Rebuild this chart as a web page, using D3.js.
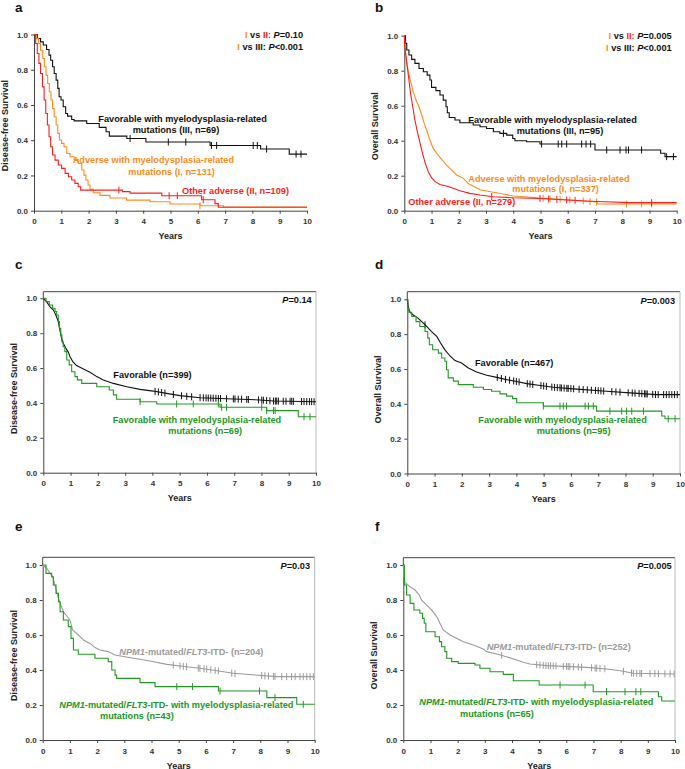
<!DOCTYPE html>
<html>
<head>
<meta charset="utf-8">
<script src="https://cdn.jsdelivr.net/npm/d3@7"></script>
<style>
  body { margin: 0; background: #fff; }
  text { font-family: "Liberation Sans", Arial, sans-serif; font-weight: bold; }
</style>
</head>
<body>
<script>
// axis ticks
const yearTicks = [0, 1, 2, 3, 4, 5, 6, 7, 8, 9, 10];
const survTicks = [0, 0.2, 0.4, 0.6, 0.8, 1.0];

// a: disease-free survival, adverse / other adverse / favorable with MR mutations
const aAdvMrT = [0,0.07,0.16,0.24,0.32,0.38,0.44,0.5,0.56,0.62,0.68,0.74,0.81,0.87,0.93,1.01,1.1,1.2,1.32,1.47,1.62,1.75,1.83,1.9,1.98,2.05,2.17,2.42,2.78,3.39,4.25,4.98,6.08,6.94];
const aAdvMrS = [1,0.977,0.949,0.911,0.864,0.817,0.769,0.722,0.675,0.628,0.58,0.533,0.486,0.439,0.401,0.382,0.363,0.325,0.306,0.291,0.268,0.231,0.202,0.174,0.146,0.121,0.102,0.087,0.072,0.06,0.051,0.038,0.028,0.021];
const aAdvMrC = [6.08];
const aOthT = [0,0.06,0.12,0.18,0.24,0.31,0.37,0.43,0.49,0.55,0.61,0.68,0.77,0.89,1.01,1.14,1.26,1.38,1.5,1.62,1.71,3.24,3.52,4.68,6.14,6.63,6.75];
const aOthS = [1,0.949,0.892,0.836,0.779,0.703,0.628,0.552,0.486,0.42,0.363,0.316,0.287,0.259,0.24,0.212,0.193,0.174,0.155,0.136,0.117,0.108,0.1,0.085,0.062,0.04,0.02];
const aOthC = [3.11,4.95,5.25,6.2];
const aFavMrT = [0,0.12,0.24,0.34,0.46,0.55,0.61,0.68,0.74,0.81,0.87,0.92,0.99,1.07,1.16,1.23,1.38,1.47,1.93,2.39,2.64,2.76,3.4,4.1,6.45,8.3,9.35];
const aFavMrS = [1,0.977,0.958,0.94,0.915,0.883,0.854,0.817,0.779,0.741,0.694,0.647,0.628,0.59,0.552,0.537,0.518,0.51,0.495,0.473,0.448,0.423,0.41,0.39,0.37,0.35,0.321];
const aFavMrC = [3.52,4.92,5.56,6.5,6.69,8.03,8.18,8.52,9.6,9.78];

// b: overall survival, same groups
const bAdvMrT = [0,0.04,0.09,0.15,0.23,0.33,0.43,0.54,0.64,0.73,0.84,0.94,1.06,1.21,1.37,1.55,1.74,1.92,2.17,2.35,2.78,3.27,3.64,4.0,4.49,4.98,5.96,7.06,7.12];
const bAdvMrS = [1,0.918,0.842,0.794,0.737,0.68,0.632,0.594,0.547,0.499,0.451,0.404,0.356,0.324,0.293,0.261,0.232,0.204,0.185,0.155,0.12,0.105,0.095,0.084,0.078,0.072,0.063,0.05,0.038];
const bAdvMrC = [5.1,5.35,5.72,6.08,6.57,6.82,7.06,8.16,8.71,9.08];
const bOthT = [0,0.02,0.06,0.11,0.17,0.23,0.31,0.39,0.48,0.58,0.67,0.77,0.88,1.0,1.13,1.31,1.55,1.8,2.04,2.41,2.78,3.27,4.0,4.98,5.96,7.06,8.29];
const bOthS = [1,0.937,0.88,0.823,0.747,0.67,0.594,0.518,0.451,0.385,0.328,0.27,0.223,0.189,0.166,0.15,0.141,0.128,0.114,0.099,0.09,0.08,0.074,0.07,0.061,0.053,0.046];
const bOthC = [3.21,4.98,5.3,5.6,5.96,6.27,9.08];
const bFavMrT = [0,0.04,0.09,0.17,0.27,0.39,0.54,0.7,0.84,0.94,1.0,1.16,1.31,1.43,1.53,1.58,1.65,1.86,2.04,2.53,2.78,3.02,3.27,3.51,3.76,3.98,4.06,4.49,4.98,7.0,9.41,9.57];
const bFavMrS = [1,0.956,0.918,0.89,0.865,0.842,0.813,0.794,0.775,0.747,0.705,0.686,0.661,0.632,0.594,0.56,0.533,0.518,0.503,0.49,0.48,0.47,0.451,0.442,0.432,0.413,0.4,0.394,0.381,0.347,0.328,0.309];
const bFavMrC = [3.64,5.04,5.65,5.78,5.96,6.51,6.67,6.84,7.43,7.92,8.14,8.23,8.71,9.63,9.88];

// c: disease-free survival, favorable vs favorable with MR mutations
const cFavT = [0,0.12,0.24,0.37,0.46,0.55,0.61,0.67,0.73,0.83,0.92,0.98,1.08,1.22,1.47,1.71,1.96,2.2,2.57,3.06,3.55,4.03,4.52,5.01,5.75,6.97,7.95,8.44,10];
const cFavS = [1,0.981,0.952,0.933,0.904,0.866,0.818,0.771,0.742,0.713,0.69,0.665,0.637,0.614,0.595,0.576,0.551,0.532,0.512,0.493,0.478,0.468,0.455,0.442,0.43,0.423,0.417,0.411,0.407];
const cFavC = [4.1,4.22,4.34,4.46,4.77,5.07,5.26,5.44,5.75,5.87,5.97,6.05,6.14,6.23,6.33,6.42,6.5,6.72,6.97,7.03,7.15,7.27,7.46,7.52,7.89,8.01,8.07,8.19,8.31,8.44,8.51,8.56,8.62,8.8,8.9,9.05,9.11,9.17,9.47,9.56,9.66,9.76,9.84,9.93];
const cFavMrT = [0,0.1,0.22,0.34,0.43,0.49,0.55,0.59,0.64,0.68,0.73,0.79,0.86,0.95,1.04,1.16,1.25,1.41,1.96,2.42,2.57,2.69,3.55,4.16,6.48,8.19,9.35];
const cFavMrS = [1,0.981,0.962,0.943,0.924,0.904,0.866,0.828,0.79,0.751,0.723,0.694,0.646,0.618,0.579,0.551,0.532,0.512,0.493,0.474,0.446,0.421,0.407,0.394,0.375,0.356,0.321];
const cFavMrC = [3.55,4.89,5.5,6.42,6.54,6.72,8.01,8.19,8.44,8.5,9.56,9.78];

// d: overall survival, favorable vs favorable with MR mutations
const dFavT = [0,0.04,0.1,0.22,0.37,0.53,0.71,0.89,1.08,1.22,1.38,1.56,1.75,1.99,2.24,2.54,2.91,3.28,3.64,4.01,4.38,4.87,5.35,6.09,7.31,8.17,9.14,10];
const dFavS = [1,0.949,0.926,0.91,0.895,0.872,0.844,0.815,0.787,0.749,0.71,0.676,0.648,0.634,0.606,0.583,0.564,0.552,0.539,0.528,0.516,0.505,0.495,0.486,0.472,0.463,0.453,0.453];
const dFavC = [0.65,3.3,3.45,3.6,3.75,3.9,4.0,4.1,4.4,4.5,4.6,4.9,5.0,5.1,5.3,5.4,5.5,5.6,5.65,5.75,5.85,5.9,6.0,6.1,6.3,6.45,6.6,6.75,6.9,7.0,7.1,7.2,7.5,7.65,7.8,8.1,8.25,8.35,8.5,8.6,8.7,8.75,8.8,9.0,9.1,9.2,9.4,9.5,9.6,9.7,9.8,9.9];
const dFavMrT = [0,0.02,0.06,0.16,0.32,0.46,0.65,0.75,0.81,0.93,1.14,1.26,1.38,1.44,1.5,1.69,1.87,2.42,2.79,3.09,3.4,3.64,3.86,4.01,4.99,6.94,9.33,9.45];
const dFavMrS = [1,0.949,0.926,0.901,0.872,0.844,0.815,0.777,0.739,0.71,0.691,0.663,0.644,0.596,0.549,0.53,0.51,0.495,0.482,0.472,0.457,0.444,0.43,0.406,0.387,0.358,0.33,0.314];
const dFavMrC = [4.99,5.6,5.72,5.84,6.52,6.64,6.82,7.43,7.86,8.04,8.23,8.66,9.57,9.82];

// e: disease-free survival, NPM1-mutated/FLT3-ITD- with and without MR mutations
const eNpmT = [0,0.15,0.27,0.37,0.45,0.54,0.64,0.76,0.88,1.0,1.1,1.31,1.5,1.74,1.92,2.11,2.41,2.66,3.33,3.95,4.56,5.29,5.78,6.4,7.01,7.81,8.6,10];
const eNpmS = [1,0.981,0.952,0.933,0.886,0.829,0.781,0.733,0.71,0.686,0.629,0.6,0.571,0.552,0.528,0.514,0.505,0.486,0.467,0.451,0.432,0.419,0.41,0.396,0.381,0.371,0.362,0.362];
const eNpmC = [4.8,5.05,5.17,5.29,5.72,5.78,5.93,6.03,6.18,6.34,6.46,6.95,7.07,8.05,8.17,8.3,8.48,8.54,8.79,8.97,9.15,9.28,9.46,9.58,9.71,9.83,9.95];
const eNpmMrT = [0,0.12,0.33,0.39,0.49,0.58,0.64,0.76,0.94,1.04,1.13,1.31,1.92,2.41,2.54,2.66,2.72,3.58,4.13,6.46,8.24,9.34];
const eNpmMrS = [1,0.952,0.933,0.886,0.838,0.79,0.733,0.686,0.648,0.581,0.514,0.49,0.467,0.448,0.4,0.371,0.352,0.328,0.305,0.28,0.242,0.204];
const eNpmMrC = [4.93,5.51,6.52,7.97,8.54,9.58];

// f: overall survival, NPM1-mutated/FLT3-ITD- with and without MR mutations
const fNpmT = [0,0.02,0.06,0.25,0.43,0.59,0.67,0.86,1.04,1.23,1.35,1.47,1.72,1.96,2.21,2.58,2.94,3.07,3.44,3.8,4.17,4.42,4.66,5.28,6.75,7.48,7.98,8.47,10];
const fNpmS = [1,0.943,0.901,0.876,0.857,0.829,0.8,0.771,0.743,0.705,0.667,0.629,0.6,0.581,0.562,0.543,0.52,0.505,0.491,0.476,0.457,0.444,0.434,0.425,0.415,0.406,0.396,0.381,0.377];
const fNpmC = [3.62,4.91,5.03,5.15,5.25,5.34,5.42,5.52,5.62,5.89,6.01,6.07,6.13,6.26,6.44,6.56,6.93,7.06,7.12,7.24,7.42,8.1,8.4,8.47,8.59,8.71,8.77,9.08,9.26,9.39,9.63,9.82,9.97];
const fNpmMrT = [0,0.04,0.12,0.25,0.39,0.61,0.71,0.77,0.83,1.17,1.33,1.41,1.53,1.6,1.78,2.02,2.64,2.82,3.19,3.68,4.05,5.0,6.99,9.39,9.51];
const fNpmMrS = [1,0.886,0.829,0.781,0.743,0.724,0.695,0.667,0.619,0.59,0.562,0.533,0.505,0.467,0.448,0.438,0.429,0.41,0.39,0.375,0.339,0.314,0.276,0.247,0.223];
const fNpmMrC = [5.77,6.69,7.48,8.16,8.56,8.74];

const K = "#111", O = "#ff8c1a", R = "#ff1c1c", G = "#229922", GR = "#9b9b9b";

const svg = d3.select("body").append("svg").attr("width", 685).attr("height", 769);

// survival value at time t, following the drawn curve
const survAt = (s, t) => {
  let i = Math.max(0, d3.bisectRight(s.time, t) - 1);
  if (s.step || i >= s.time.length - 1) return s.surv[i];
  const f = (t - s.time[i]) / (s.time[i + 1] - s.time[i]);
  return s.surv[i] + f * (s.surv[i + 1] - s.surv[i]);
};

const mr = "myelodysplasia-related";
const npm = [["NPM1", true], ["-mutated/", false], ["FLT3", true], ["-ITD-", false]];

const panels = [
  {
    letter: "a", lx: 15, ly: 11.7, x0: 34, x1: 307, yTop: 34.5, y0: 210.7, frameTop: null,
    yLabel: "Disease-free Survival",
    series: [
      { time: aFavMrT, surv: aFavMrS, cens: aFavMrC, color: K, step: true },
      { time: aAdvMrT, surv: aAdvMrS, cens: aAdvMrC, color: O, step: true },
      { time: aOthT, surv: aOthS, cens: aOthC, color: R, step: true }
    ],
    notes: [
      { x: 303, y: 38, anchor: "end", parts: [["I", O], [" vs ", K], ["II:", R], [" ", K], ["P", K, true], ["=0.10", K]] },
      { x: 303, y: 50, anchor: "end", parts: [["I", O], [" vs III: ", K], ["P", K, true], ["<0.001", K]] },
      { x: 98.3, y: 121.5, parts: [["Favorable with " + mr, K]] },
      { x: 132.7, y: 133.2, parts: [["mutations (III, n=69)", K]] },
      { x: 72.7, y: 163.2, parts: [["Adverse with " + mr, O]] },
      { x: 128.3, y: 174.9, parts: [["mutations (I, n=131)", O]] },
      { x: 182, y: 193.9, parts: [["Other adverse (II, n=109)", R]] }
    ]
  },
  {
    letter: "b", lx: 375, ly: 11.7, x0: 404.3, x1: 676.7, yTop: 35.7, y0: 210.7, frameTop: null,
    yLabel: "Overall Survival",
    series: [
      { time: bFavMrT, surv: bFavMrS, cens: bFavMrC, color: K, step: true },
      { time: bAdvMrT, surv: bAdvMrS, cens: bAdvMrC, color: O, step: false },
      { time: bOthT, surv: bOthS, cens: bOthC, color: R, step: false }
    ],
    notes: [
      { x: 671.7, y: 39, anchor: "end", parts: [["I", O], [" vs ", K], ["II:", R], [" ", K], ["P", K, true], ["=0.005", K]] },
      { x: 671.7, y: 51, anchor: "end", parts: [["I", O], [" vs III: ", K], ["P", K, true], ["<0.001", K]] },
      { x: 468.3, y: 122.5, parts: [["Favorable with " + mr, K]] },
      { x: 516.7, y: 134.2, parts: [["mutations (III, n=95)", K]] },
      { x: 468.3, y: 181.5, parts: [["Adverse with " + mr, O]] },
      { x: 512.3, y: 192.2, parts: [["mutations (I, n=337)", O]] },
      { x: 408.3, y: 204.9, parts: [["Other adverse (II, n=279)", R]] }
    ]
  },
  {
    letter: "c", lx: 15, ly: 269, x0: 43.3, x1: 316, yTop: 298.3, y0: 472.7, frameTop: 291.7,
    yLabel: "Disease-free Survival",
    series: [
      { time: cFavT, surv: cFavS, cens: cFavC, color: K, step: false },
      { time: cFavMrT, surv: cFavMrS, cens: cFavMrC, color: G, step: true }
    ],
    notes: [
      { x: 311.7, y: 303, anchor: "end", parts: [["P", K, true], ["=0.14", K]] },
      { x: 113.3, y: 377.5, parts: [["Favorable (n=399)", K]] },
      { x: 112.7, y: 423.2, parts: [["Favorable with " + mr, G]] },
      { x: 168.3, y: 434.2, parts: [["mutations (n=69)", G]] }
    ]
  },
  {
    letter: "d", lx: 375, ly: 268.5, x0: 407.3, x1: 680, yTop: 299.3, y0: 473.5, frameTop: 291.7,
    yLabel: "Overall Survival",
    series: [
      { time: dFavT, surv: dFavS, cens: dFavC, color: K, step: false },
      { time: dFavMrT, surv: dFavMrS, cens: dFavMrC, color: G, step: true }
    ],
    notes: [
      { x: 675, y: 303.7, anchor: "end", parts: [["P", K, true], ["=0.003", K]] },
      { x: 475, y: 365.9, parts: [["Favorable (n=467)", K]] },
      { x: 478.3, y: 422.5, parts: [["Favorable with " + mr, G]] },
      { x: 536.7, y: 433.5, parts: [["mutations (n=95)", G]] }
    ]
  },
  {
    letter: "e", lx: 15, ly: 531, x0: 42.7, x1: 314.7, yTop: 565, y0: 740, frameTop: 557.3,
    yLabel: "Disease-free Survival",
    series: [
      { time: eNpmT, surv: eNpmS, cens: eNpmC, color: GR, step: false },
      { time: eNpmMrT, surv: eNpmMrS, cens: eNpmMrC, color: G, step: true }
    ],
    notes: [
      { x: 310, y: 569, anchor: "end", parts: [["P", K, true], ["=0.03", K]] },
      { x: 119.3, y: 654.9, parts: npm.map((d) => [d[0], GR, d[1]]).concat([[" (n=204)", GR]]) },
      { x: 59.3, y: 707.5, parts: npm.map((d) => [d[0], G, d[1]]).concat([[" with " + mr, G]]) },
      { x: 100, y: 718.9, parts: [["mutations (n=43)", G]] }
    ]
  },
  {
    letter: "f", lx: 375, ly: 531, x0: 403.3, x1: 675, yTop: 565, y0: 740, frameTop: 557.7,
    yLabel: "Overall Survival",
    series: [
      { time: fNpmT, surv: fNpmS, cens: fNpmC, color: GR, step: false },
      { time: fNpmMrT, surv: fNpmMrS, cens: fNpmMrC, color: G, step: true }
    ],
    notes: [
      { x: 671.7, y: 569, anchor: "end", parts: [["P", K, true], ["=0.005", K]] },
      { x: 486.7, y: 649.9, parts: npm.map((d) => [d[0], GR, d[1]]).concat([[" (n=252)", GR]]) },
      { x: 419.3, y: 704.9, parts: npm.map((d) => [d[0], G, d[1]]).concat([[" with " + mr, G]]) },
      { x: 460, y: 716.5, parts: [["mutations (n=65)", G]] }
    ]
  }
];

const drawPanel = (p) => {
  const x = d3.scaleLinear().domain([0, 10]).range([p.x0, p.x1]);
  const y = d3.scaleLinear().domain([0, 1]).range([p.y0, p.yTop]);
  const g = svg.append("g");

  //frame around the plot for the lower panels
  if (p.frameTop !== null) {
    g.append("line").attr("x1", p.x0).attr("x2", p.x1).attr("y1", p.frameTop).attr("y2", p.frameTop)
      .attr("stroke", "#444").attr("stroke-width", 1);
    g.append("line").attr("x1", p.x1).attr("x2", p.x1).attr("y1", p.frameTop).attr("y2", p.y0)
      .attr("stroke", "#bbb").attr("stroke-width", 1);
    g.append("line").attr("x1", p.x0).attr("x2", p.x0).attr("y1", p.frameTop).attr("y2", p.yTop)
      .attr("stroke", "#444").attr("stroke-width", 1);
  }

  const xAxis = g.append("g")
    .attr("transform", `translate(0,${p.y0})`)
    .call(d3.axisBottom(x).tickValues(yearTicks).tickSize(3).tickSizeOuter(0).tickPadding(5).tickFormat(d3.format("d")));
  const yAxis = g.append("g")
    .attr("transform", `translate(${p.x0},0)`)
    .call(d3.axisLeft(y).tickValues(survTicks).tickSize(3).tickSizeOuter(0).tickPadding(3).tickFormat(d3.format(".1f")));
  [xAxis, yAxis].forEach((a) => {
    a.selectAll("path, line").attr("stroke", "#444");
    a.selectAll("text").attr("fill", "#333").style("font-size", "8px").style("font-family", null);
  });

  g.append("text")
    .attr("x", (p.x0 + p.x1) / 2).attr("y", p.y0 + 28.5)
    .attr("text-anchor", "middle").style("font-size", "9px").attr("fill", "#222")
    .text("Years");
  g.append("text")
    .attr("transform", `translate(${p.x0 - 29},${(p.y0 + p.yTop) / 2 + 3}) rotate(-90)`)
    .attr("text-anchor", "middle").attr("dy", "0.35em").style("font-size", "9px").attr("fill", "#222")
    .text(p.yLabel);
  g.append("text")
    .attr("x", p.lx).attr("y", p.ly).style("font-size", "13.5px").attr("fill", "#111")
    .text(p.letter);

  //survival curves with censor marks
  p.series.forEach((s) => {
    const pts = s.time.map((t, i) => [t, s.surv[i]]);
    if (s.time[s.time.length - 1] < 10) pts.push([10, s.surv[s.surv.length - 1]]);
    const line = d3.line()
      .x((d) => x(d[0]))
      .y((d) => y(d[1]))
      .curve(s.step ? d3.curveStepAfter : d3.curveLinear);
    g.append("path")
      .attr("d", line(pts))
      .attr("fill", "none")
      .attr("stroke", s.color)
      .attr("stroke-width", 1.1);
    g.selectAll(null)
      .data(s.cens)
      .enter()
      .append("line")
      .attr("x1", (d) => x(d)).attr("x2", (d) => x(d))
      .attr("y1", (d) => y(survAt(s, d)) - 3.5)
      .attr("y2", (d) => y(survAt(s, d)) + 3.5)
      .attr("stroke", s.color)
      .attr("stroke-width", 1);
  });

  //annotations and group labels
  p.notes.forEach((n) => {
    const t = g.append("text")
      .attr("x", n.x).attr("y", n.y)
      .attr("text-anchor", n.anchor || "start")
      .style("font-size", "9.2px")
      .attr("xml:space", "preserve");
    n.parts.forEach((part) => {
      t.append("tspan")
        .attr("fill", part[1])
        .style("font-style", part[2] ? "italic" : "normal")
        .text(part[0]);
    });
  });
};

panels.forEach(drawPanel);
</script>
</body>
</html>
